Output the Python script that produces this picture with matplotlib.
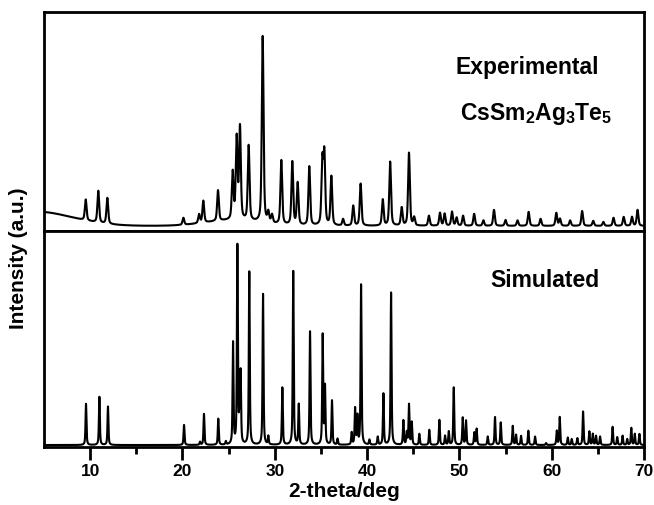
import numpy as np
import matplotlib
matplotlib.use("Agg")
import matplotlib.pyplot as plt

plt.rcParams['font.family'] = ['Liberation Sans', 'DejaVu Sans']
plt.rcParams['font.weight'] = 'bold'
plt.rcParams['mathtext.fontset'] = 'custom'
plt.rcParams['mathtext.rm'] = 'Liberation Sans:bold'
plt.rcParams['mathtext.bf'] = 'Liberation Sans:bold'

# Experimental pattern: peak positions (2-theta, deg) and heights above background
exp_pos = [9.52, 10.88, 11.86, 20.1, 21.8, 22.26, 23.85, 25.44, 25.87, 26.23,
           27.17, 28.69, 29.3, 29.7, 30.71, 31.9, 32.48, 33.74, 35.15, 35.37,
           36.13, 37.4, 38.5, 39.3, 41.7, 42.5, 43.75, 44.54, 45.1, 46.7,
           47.9, 48.4, 49.2, 49.7, 50.4, 51.6, 52.6, 53.75, 55.0, 56.3,
           57.5, 58.8, 60.5, 60.9, 62.0, 63.3, 64.5, 65.6, 66.7, 67.8,
           68.7, 69.3]
exp_int = [9.5, 14.5, 11.8, 3.2, 4.0, 10.0, 14.0, 21.5, 37.0, 42.0,
           34.2, 85.0, 4.6, 3.7, 29.2, 28.8, 19.2, 26.9, 28.8, 32.0,
           22.4, 3.0, 9.1, 19.2, 11.9, 29.2, 8.2, 33.3, 3.7, 4.6,
           5.9, 5.5, 6.4, 3.7, 4.6, 5.5, 2.5, 7.3, 2.7, 2.5,
           6.4, 3.2, 5.9, 3.2, 2.5, 6.8, 2.3, 1.8, 3.7, 4.1,
           4.1, 7.3]

# Broad background humps of the measured trace (center, height, width)
bg_pos = [4.0, 25.5]
bg_int = [6.6, 2.5]
bg_wid = [4.0, 3.0]
exp_base = 2.3

# Simulated pattern: reflection positions and relative intensities
sim_pos = [9.55, 11.0, 11.93, 20.17, 21.9, 22.33, 23.88, 24.7, 25.48, 25.95,
           26.16, 26.3, 27.24, 28.73, 29.3, 30.82, 32.0, 32.6, 33.82, 35.19,
           35.44, 36.2, 36.8, 38.33, 38.7, 38.95, 39.35, 40.25, 41.15, 41.77,
           42.6, 43.93, 44.3, 44.54, 44.84, 45.66, 46.74, 47.83, 48.45, 48.85,
           49.39, 50.36, 50.72, 51.62, 51.87, 53.07, 53.86, 54.48, 55.78, 56.14,
           56.68, 57.47, 58.2, 59.39, 60.55, 60.87, 61.74, 62.17, 62.78, 63.4,
           64.08, 64.45, 64.8, 65.24, 66.6, 67.1, 67.68, 68.18, 68.62, 69.0,
           69.5]
sim_int = [19.1, 22.3, 17.8, 9.3, 1.4, 14.4, 12.1, 1.5, 47.0, 91.6,
           10.0, 32.6, 80.1, 69.8, 3.9, 26.5, 80.4, 18.6, 52.5, 50.7,
           26.6, 20.5, 2.8, 5.6, 16.7, 13.0, 74.1, 2.3, 3.7, 23.7,
           70.5, 11.3, 5.6, 18.6, 10.4, 5.1, 7.0, 11.6, 4.2, 6.2,
           26.6, 12.6, 11.2, 5.7, 7.4, 3.9, 12.9, 10.4, 8.8, 4.7,
           4.2, 6.6, 3.9, 0.9, 6.5, 12.9, 3.4, 2.7, 3.1, 15.5,
           6.2, 5.1, 4.2, 3.9, 8.4, 3.6, 4.3, 2.7, 7.9, 5.1,
           5.1]
sim_base = 0.9

x_ticks = [10, 20, 30, 40, 50, 60, 70]


def pseudo_voigt(x, centers, heights, fwhm, eta):
    y = np.zeros_like(x)
    sigma = fwhm / 2.3548
    gam = fwhm / 2.0
    for c, h in zip(centers, heights):
        g = np.exp(-0.5 * ((x - c) / sigma) ** 2)
        lor = 1.0 / (1.0 + ((x - c) / gam) ** 2)
        y += h * (eta * lor + (1 - eta) * g)
    return y


tt = np.linspace(5, 70, 13001)
y_exp = exp_base + pseudo_voigt(tt, exp_pos, exp_int, 0.22, 0.5)
for c, h, w in zip(bg_pos, bg_int, bg_wid):
    y_exp += h * np.exp(-0.5 * ((tt - c) / w) ** 2)
y_sim = sim_base + pseudo_voigt(tt, sim_pos, sim_int, 0.12, 0.6)

fig = plt.figure(figsize=(6.54, 5.06), dpi=100)
left, right = 44 / 654, 644 / 654
ax_top = fig.add_axes([left, 1 - 232 / 506, right - left, 219 / 506])
ax_bot = fig.add_axes([left, 1 - 448 / 506, right - left, 216 / 506], sharex=ax_top)

for ax in (ax_top, ax_bot):
    for sp in ax.spines.values():
        sp.set_linewidth(2.0)
    ax.set_ylim(0, 100)
    ax.set_yticks([])

ax_top.plot(tt, y_exp, color='black', lw=1.5)
ax_bot.plot(tt, y_sim, color='black', lw=1.5)

ax_bot.set_xlim(5, 70)
ax_bot.set_xticks(x_ticks)
ax_bot.set_xticks(np.arange(15, 70, 10), minor=True)
ax_bot.tick_params(axis='x', which='major', direction='out', length=9, width=2.0,
                   labelsize=12.5, pad=2.5)
ax_bot.tick_params(axis='x', which='minor', direction='out', length=5, width=2.0)
ax_top.tick_params(axis='x', which='both', bottom=False, labelbottom=False)
for lab in ax_bot.get_xticklabels():
    lab.set_fontweight('bold')

ax_bot.set_xlabel('2-theta/deg', fontsize=15, fontweight='bold', labelpad=2)
fig.text(19 / 654, 1 - 258 / 506, 'Intensity (a.u.)', rotation=90, ha='center',
         va='center', fontsize=15, fontweight='bold')

ax_top.text(57.3, 75.3, 'Experimental', ha='center', va='center', fontsize=16.5,
            fontweight='bold')
ax_top.text(58.3, 54.0, r'CsSm$_{2}$Ag$_{3}$Te$_{5}$', ha='center', va='center',
            fontsize=16.5, fontweight='bold')
ax_bot.text(59.3, 77.7, 'Simulated', ha='center', va='center', fontsize=16.5,
            fontweight='bold')

fig.savefig('out.png', dpi=100)
